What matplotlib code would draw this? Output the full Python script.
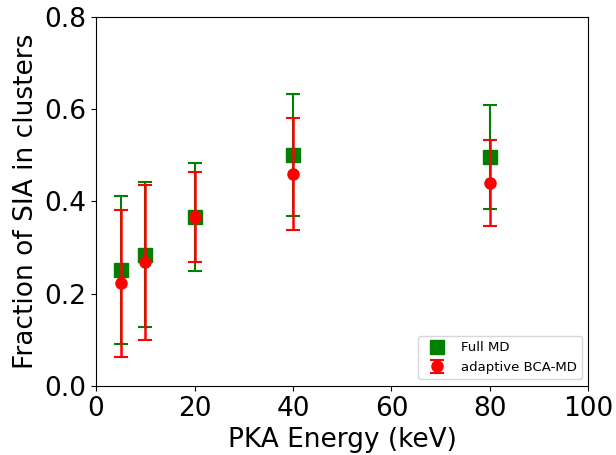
import matplotlib
matplotlib.use('Agg')
import matplotlib.pyplot as plt

energy = [5, 10, 20, 40, 80]
full_md = [0.251, 0.284, 0.366, 0.501, 0.496]
full_md_err = [0.160, 0.157, 0.117, 0.132, 0.112]
bca_md = [0.222, 0.268, 0.366, 0.459, 0.439]
bca_md_err = [0.159, 0.168, 0.097, 0.122, 0.093]

fig = plt.figure(figsize=(6.16, 4.55), dpi=100)
ax = fig.add_axes([0.156, 0.152, 0.799, 0.811])

ax.errorbar(energy, full_md, yerr=full_md_err, fmt='none', ecolor='green',
            elinewidth=1.5, capsize=5, capthick=1.5)
ax.plot(energy, full_md, 's', color='green', markersize=9.5, label='Full MD')
ax.errorbar(energy, bca_md, yerr=bca_md_err, fmt='o', color='red',
            markersize=8, elinewidth=1.8, capsize=5, capthick=1.5,
            label='adaptive BCA-MD')

ax.set_xlim(0, 100)
ax.set_ylim(0, 0.8)
ax.set_xticks([0, 20, 40, 60, 80, 100])
ax.set_yticks([0.0, 0.2, 0.4, 0.6, 0.8])
ax.tick_params(labelsize=19)
ax.set_xlabel('PKA Energy (keV)', fontsize=19)
ax.set_ylabel('Fraction of SIA in clusters', fontsize=19)
ax.legend(loc='lower right', fontsize=9.5)

fig.savefig('out.png', dpi=100)
